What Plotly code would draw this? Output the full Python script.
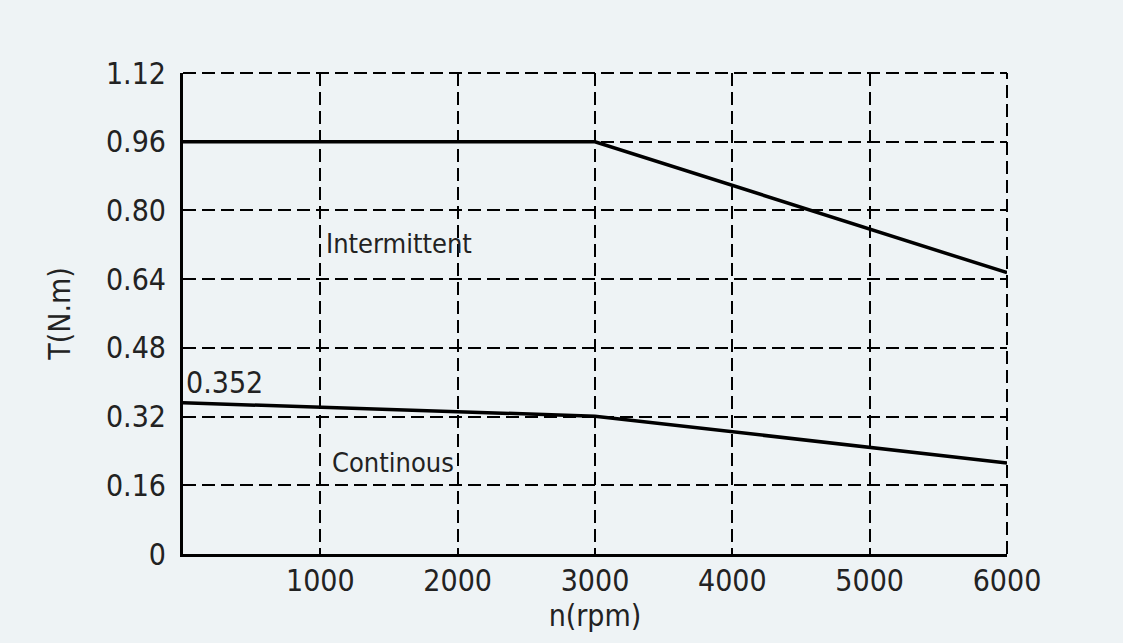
import plotly.graph_objects as go

speed = [0, 3000, 6000]
intermittent = [0.96, 0.96, 0.655]
continuous = [0.352, 0.321, 0.212]

x_ticks = [1000, 2000, 3000, 4000, 5000, 6000]
x_labels = ["1000", "2000", "3000", "4000", "5000", "6000"]
y_ticks = [0, 0.16, 0.32, 0.48, 0.64, 0.80, 0.96, 1.12]
y_labels = ["0", "0.16", "0.32", "0.48", "0.64", "0.80", "0.96", "1.12"]

FONT = "DejaVu Sans Condensed, Liberation Sans Narrow, sans-serif"
BG = "#eef3f5"
FS = 30
DASH = "13px,6px"

fig = go.Figure()
fig.add_trace(go.Scatter(x=speed, y=intermittent, mode="lines",
                         line=dict(color="black", width=3.5), name="Intermittent"))
fig.add_trace(go.Scatter(x=speed, y=continuous, mode="lines",
                         line=dict(color="black", width=3.5), name="Continous"))

fig.add_annotation(x=1573, y=0.724, text="Intermittent", showarrow=False,
                   xanchor="center", yanchor="middle", font=dict(size=27, color="#222"))
fig.add_annotation(x=1529, y=0.214, text="Continous", showarrow=False,
                   xanchor="center", yanchor="middle", font=dict(size=27, color="#222"))
fig.add_annotation(x=0, y=0.40, text="0.352", showarrow=False,
                   xanchor="left", yanchor="middle", xshift=1,
                   font=dict(size=FS, color="#222"))

# dashed grid lines on the open edges of the plot area (top and right)
fig.add_shape(type="line", xref="paper", yref="paper", x0=0, x1=1, y0=1, y1=1,
              line=dict(color="black", width=2, dash=DASH), layer="below")
fig.add_shape(type="line", xref="paper", yref="paper", x0=1, x1=1, y0=0, y1=1,
              line=dict(color="black", width=2, dash=DASH), layer="below")

fig.update_layout(
    width=1123, height=643,
    margin=dict(l=183, r=116, t=73, b=89),
    paper_bgcolor=BG, plot_bgcolor=BG,
    showlegend=False,
    font=dict(family=FONT, size=FS, color="#222"),
    xaxis=dict(range=[0, 6000], tickvals=x_ticks, ticktext=x_labels,
               showgrid=True, gridcolor="black", griddash=DASH, gridwidth=2,
               showline=True, linecolor="black", linewidth=3,
               zeroline=False, ticks="", ticklen=0, ticklabelstandoff=-2,
               title=dict(text="n(rpm)", standoff=0, font=dict(size=FS))),
    yaxis=dict(range=[0, 1.12], tickvals=y_ticks, ticktext=y_labels,
               showgrid=True, gridcolor="black", griddash=DASH, gridwidth=2,
               showline=True, linecolor="black", linewidth=3,
               zeroline=False, ticks="", ticklen=0, ticklabelstandoff=8,
               title=dict(text="T(N.m)", standoff=27, font=dict(size=FS))),
)

fig.write_html("out.html")
